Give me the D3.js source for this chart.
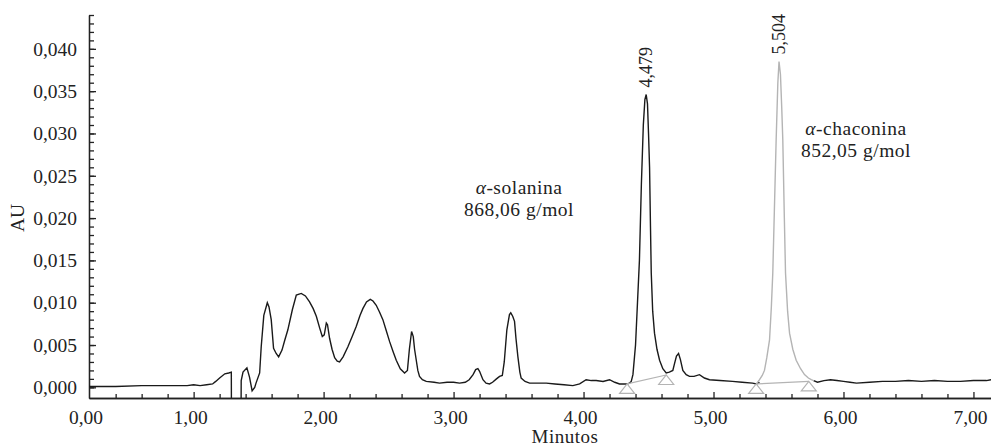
<!doctype html>
<html>
<head>
    <meta charset="utf-8">
    <style>
        body { margin: 0; background: #fff; }
        text { font-family: 'Liberation Serif', 'Times New Roman', serif; fill: #222; }
        .axis path, .axis line { stroke: #222; stroke-width: 1.3; }
    </style>
    <script src="https://d3js.org/d3.v7.min.js"></script>
</head>
<body>
    <script>
        // black chromatogram (null = gap where the grey peak is drawn)
        var traceTime = [0.195, 0.4, 0.6, 0.8, 0.95, 1.0, 1.05, 1.1, 1.146, 1.17, 1.2, 1.24, 1.27, 1.29,
            1.291, 1.365, 1.366, 1.38, 1.41, 1.43, 1.45, 1.47, 1.48, 1.508, 1.52, 1.54, 1.567, 1.58, 1.597,
            1.615, 1.635, 1.654, 1.68, 1.70, 1.725, 1.76, 1.79, 1.828, 1.86, 1.892, 1.92, 1.944, 1.97, 1.99,
            2.005, 2.021, 2.03, 2.046, 2.065, 2.085, 2.105, 2.123, 2.15, 2.187, 2.22, 2.251, 2.28, 2.302,
            2.33, 2.359, 2.38, 2.405, 2.43, 2.456, 2.48, 2.508, 2.535, 2.559, 2.59, 2.623, 2.645, 2.66,
            2.677, 2.69, 2.70, 2.713, 2.725, 2.738, 2.76, 2.79, 2.85, 2.892, 2.95, 3.0, 3.046, 3.09, 3.12,
            3.15, 3.17, 3.187, 3.2, 3.226, 3.25, 3.277, 3.30, 3.33, 3.354, 3.375, 3.39, 3.41, 3.43, 3.44,
            3.455, 3.469, 3.48, 3.495, 3.51, 3.52, 3.55, 3.585, 3.65, 3.713, 3.78, 3.85, 3.918, 3.97, 4.02,
            4.06, 4.097, 4.15, 4.2, 4.24, 4.277, 4.31, 4.335, 4.354, 4.367, 4.38, 4.392, 4.40, 4.415, 4.43,
            4.445, 4.46, 4.472, 4.482, 4.492, 4.50, 4.508, 4.515, 4.521, 4.532, 4.546, 4.565, 4.585, 4.61,
            4.636, 4.66, 4.687, 4.70, 4.715, 4.731, 4.745, 4.764, 4.79, 4.815, 4.85, 4.892, 4.93, 4.969,
            5.05, 5.146, 5.22, 5.3, 5.33, 5.354, 5.5, 5.77, 5.8, 5.85, 5.9, 5.95, 6.0, 6.05, 6.1, 6.2, 6.3,
            6.4, 6.5, 6.6, 6.7, 6.8, 6.9, 7.0, 7.1, 7.135];
        var traceAU = [0.0001, 0.0001, 0.0002, 0.0002, 0.0002, 0.0003, 0.0002, 0.0003, 0.0004, 0.0007, 0.0011, 0.0016, 0.0017, 0.0018,
            -0.003, -0.003, 0.0008, 0.0018, 0.0023, 0.0012, -0.0004, 0.0000, 0.0005, 0.0017, 0.0048, 0.0085, 0.0100, 0.0095, 0.0080,
            0.0046, 0.0040, 0.0036, 0.0044, 0.0055, 0.0068, 0.0092, 0.0109, 0.0111, 0.0108, 0.0101, 0.0093, 0.0084, 0.0070, 0.0060,
            0.0062, 0.0076, 0.0074, 0.0058, 0.0045, 0.0035, 0.0031, 0.0030, 0.0036, 0.0048, 0.0060, 0.0072, 0.0085, 0.0093,
            0.0101, 0.0104, 0.0102, 0.0097, 0.0089, 0.0080, 0.0068, 0.0054, 0.0042, 0.0032, 0.0022, 0.0017, 0.0020, 0.0045,
            0.0066, 0.0060, 0.0045, 0.0032, 0.0020, 0.0013, 0.0009, 0.0007, 0.0006, 0.0005, 0.0006, 0.0006, 0.0005, 0.0006, 0.0009,
            0.0015, 0.0021, 0.0022, 0.0019, 0.0009, 0.0005, 0.0004, 0.0006, 0.0010, 0.0013, 0.0014, 0.0030, 0.0068, 0.0086, 0.0088,
            0.0084, 0.0078, 0.0058, 0.0036, 0.0018, 0.0011, 0.0007, 0.0005, 0.0005, 0.0005, 0.0004, 0.0003, 0.0002, 0.0004, 0.0009,
            0.0008, 0.0008, 0.0007, 0.0009, 0.0006, 0.0004, 0.0004, 0.0004, 0.0005, 0.0007, 0.0015, 0.0036, 0.0050, 0.0100, 0.0150,
            0.0240, 0.0310, 0.0340, 0.0346, 0.0335, 0.0300, 0.0260, 0.0190, 0.0135, 0.0090, 0.0064, 0.0045, 0.0032, 0.0022,
            0.0017, 0.0018, 0.0020, 0.0028, 0.0037, 0.0040, 0.0033, 0.0020, 0.0015, 0.0013, 0.0013, 0.0015, 0.0011, 0.0009,
            0.0008, 0.0007, 0.0006, 0.0005, 0.0004, 0.0006, null, 0.0008, 0.0006, 0.0008, 0.0009, 0.0008, 0.0007, 0.0006, 0.0005, 0.0006, 0.0007,
            0.0007, 0.0008, 0.0007, 0.0008, 0.0007, 0.0007, 0.0008, 0.0008, 0.0009];

        // grey alpha-chaconina peak
        var chaconinaTime = [5.33, 5.354, 5.375, 5.392, 5.41, 5.431, 5.445, 5.456, 5.47, 5.482, 5.495, 5.504,
            5.515, 5.525, 5.533, 5.545, 5.554, 5.57, 5.585, 5.61, 5.636, 5.67, 5.7, 5.73, 5.752, 5.77];
        var chaconinaAU = [0.0004, 0.0009, 0.0014, 0.0020, 0.0035, 0.0056, 0.0095, 0.0135, 0.0220, 0.0293, 0.0360, 0.0385,
            0.0370, 0.0330, 0.0293, 0.0200, 0.0135, 0.0090, 0.0064, 0.0045, 0.0032, 0.0022, 0.0015, 0.0011, 0.0009, 0.0008];

        // integration baselines (start / end markers)
        var solBaseTime = [4.335, 4.636];
        var solBaseAU = [0.0004, 0.00146];
        var chaBaseTime = [5.328, 5.733];
        var chaBaseAU = [0.0004, 0.0007];

        var peakLabels = ["4,479", "5,504"];
        var peakTime = [4.482, 5.504];
        var peakAU = [0.0346, 0.0385];

        var xTickLabels = [0, 1, 2, 3, 4, 5, 6, 7];
        var yTickLabels = [0, 0.005, 0.010, 0.015, 0.020, 0.025, 0.030, 0.035, 0.040];

        var width = 991, height = 448;
        var svg = d3.select("body").append("svg").attr("width", width).attr("height", height);

        var x = d3.scaleLinear().domain([0.195, 7.135]).range([89, 991]);
        var y = d3.scaleLinear().domain([-0.00126, 0.044]).range([398, 15]);

        var comma = function (v, n) { return v.toFixed(n).replace(".", ","); };

        // x axis: minor every 0.2, major every 1
        var xMinor = d3.range(2, 36).map(function (i) { return i / 5; }).filter(function (v) { return v % 1 !== 0 && v > 0.3; });
        svg.append("g").attr("class", "axis").attr("transform", "translate(0,398)")
            .call(d3.axisBottom(x).tickValues(xMinor).tickSize(-4).tickSizeOuter(0).tickFormat(""));
        svg.append("g").attr("class", "axis").attr("transform", "translate(0,398)")
            .call(d3.axisBottom(x).tickValues(xTickLabels.slice(1)).tickSize(-6).tickSizeOuter(0).tickFormat(""));

        svg.append("g").selectAll("text").data(xTickLabels).join("text")
            .attr("x", function (d) { return x(Math.max(d, x.domain()[0])) - 3; })
            .attr("y", 424)
            .attr("text-anchor", "middle")
            .style("font-size", "19.5px")
            .text(function (d) { return comma(d, 2); });

        // y axis: minor every 0.001, major every 0.005
        var yMinor = d3.range(0, 45).map(function (i) { return i / 1000; });
        svg.append("g").attr("class", "axis").attr("transform", "translate(89,0)")
            .call(d3.axisLeft(y).tickValues(yMinor).tickSize(-5).tickSizeOuter(0).tickFormat(""));
        svg.append("g").attr("class", "axis").attr("transform", "translate(89,0)")
            .call(d3.axisLeft(y).tickValues(yTickLabels).tickSize(-7).tickSizeOuter(0).tickPadding(12)
                .tickFormat(function (d) { return comma(d, 3); }))
            .selectAll("text").style("font-size", "19.5px").attr("fill", "#222");

        svg.append("text").attr("transform", "translate(24,218) rotate(-90)")
            .attr("text-anchor", "middle").style("font-size", "19.5px").text("AU");
        svg.append("text").attr("x", 565).attr("y", 443)
            .attr("text-anchor", "middle").style("font-size", "19px").style("letter-spacing", "0.5px")
            .text("Minutos");

        svg.append("clipPath").attr("id", "plot").append("rect")
            .attr("x", 89).attr("y", 0).attr("width", width - 89).attr("height", 398);

        var line = d3.line()
            .defined(function (d) { return d[1] !== null; })
            .x(function (d) { return x(d[0]); })
            .y(function (d) { return y(d[1]); });

        svg.append("path")
            .datum(d3.zip(traceTime, traceAU))
            .attr("clip-path", "url(#plot)")
            .attr("fill", "none").attr("stroke", "#1a1a1a").attr("stroke-width", 1.4)
            .attr("d", line);

        svg.append("path")
            .datum(d3.zip(chaconinaTime, chaconinaAU))
            .attr("fill", "none").attr("stroke", "#b4b4b4").attr("stroke-width", 1.4)
            .attr("d", line);

        // integration baselines with triangle markers
        [[solBaseTime, solBaseAU], [chaBaseTime, chaBaseAU]].forEach(function (b) {
            var pts = d3.zip(b[0], b[1]);
            svg.append("path").datum(pts)
                .attr("fill", "none").attr("stroke", "#b4b4b4").attr("stroke-width", 1.2)
                .attr("d", line);
            svg.append("g").selectAll("path").data(pts).join("path")
                .attr("transform", function (d) { return "translate(" + x(d[0]) + "," + y(d[1]) + ")"; })
                .attr("d", "M0,0L7.5,9.5L-7.5,9.5Z")
                .attr("fill", "none").attr("stroke", "#b4b4b4").attr("stroke-width", 1.2);
        });

        // retention time labels
        svg.append("g").selectAll("text").data(peakLabels).join("text")
            .attr("transform", function (d, i) {
                return "translate(" + (x(peakTime[i]) + 6) + "," + (y(peakAU[i]) - 7) + ") rotate(-90)";
            })
            .style("font-size", "18px")
            .text(function (d) { return d; });

        // compound annotations
        function note(cx, cy, name, mass) {
            var t = svg.append("text").attr("text-anchor", "middle")
                .style("font-size", "19.5px").style("letter-spacing", "0.5px");
            var l1 = t.append("tspan").attr("x", cx).attr("y", cy);
            l1.append("tspan").style("font-style", "italic").text("\u03b1");
            l1.append("tspan").text("-" + name);
            t.append("tspan").attr("x", cx).attr("y", cy + 22).text(mass);
        }
        note(519, 194, "solanina", "868,06 g/mol");
        note(856, 135, "chaconina", "852,05 g/mol");
    </script>
</body>
</html>
